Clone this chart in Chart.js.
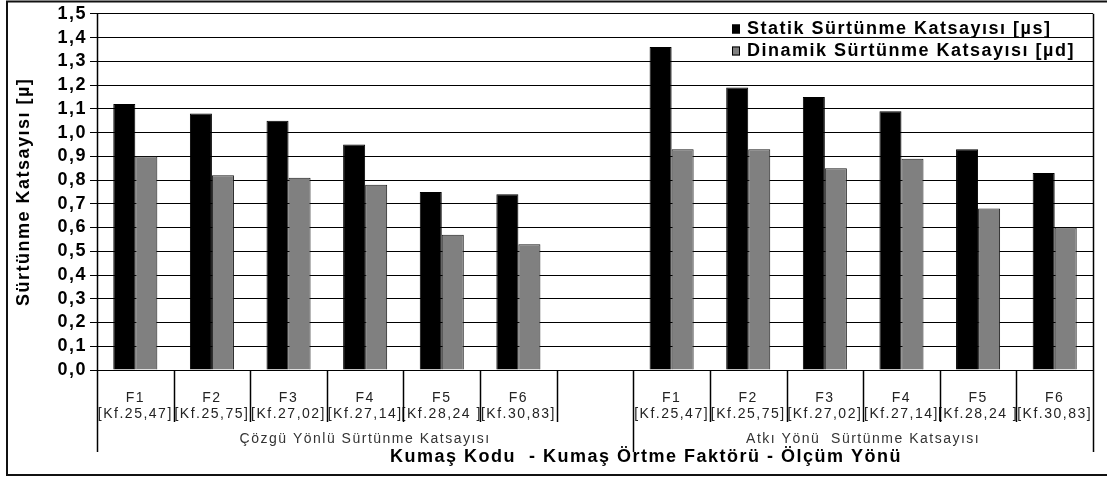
<!DOCTYPE html>
<html>
<head>
<meta charset="utf-8">
<script src="https://cdn.jsdelivr.net/npm/chart.js@4/dist/chart.umd.min.js"></script>
<style>
  html, body { margin: 0; padding: 0; background: #fff; overflow: hidden; }
  #box { width: 1107px; height: 479px; }
</style>
</head>
<body>
<div id="box"><canvas id="chart1"></canvas></div>
<script>
// Kumaş kodları ve örtme faktörleri
const codes = ['F1', 'F2', 'F3', 'F4', 'F5', 'F6']
const factors = ['[Kf.25,47]', '[Kf.25,75]', '[Kf.27,02]', '[Kf.27,14]', '[Kf.28,24 ]', '[Kf.30,83]']
const groups = ['Çözgü Yönlü Sürtünme Katsayısı', 'Atkı Yönü  Sürtünme Katsayısı']

// Çözgü yönü (soldaki grup)
const statikCozgu = [1.12, 1.08, 1.05, 0.95, 0.75, 0.74]
const dinamikCozgu = [0.90, 0.82, 0.81, 0.78, 0.57, 0.53]
// Atkı yönü (sağdaki grup)
const statikAtki = [1.36, 1.19, 1.15, 1.09, 0.93, 0.83]
const dinamikAtki = [0.93, 0.93, 0.85, 0.89, 0.68, 0.60]

const yTicks = ['0,0', '0,1', '0,2', '0,3', '0,4', '0,5', '0,6', '0,7', '0,8', '0,9', '1,0', '1,1', '1,2', '1,3', '1,4', '1,5']
const seriesNames = ['Statik Sürtünme Katsayısı [µs]', 'Dinamik Sürtünme Katsayısı [µd]']
const xTitle = 'Kumaş Kodu  - Kumaş Örtme Faktörü - Ölçüm Yönü'
const yTitle = 'Sürtünme Katsayısı [µ]'

// labels: 6 cozgu + 1 bos + 6 atki
const codeLabels = codes.map((c, i) => [c, factors[i]])
const labels = [...codeLabels, ['', ''], ...codeLabels]
const statik = [...statikCozgu, null, ...statikAtki]
const dinamik = [...dinamikCozgu, null, ...dinamikAtki]
const groupSize = [codes.length + 1, codes.length]

const FONT = "'Liberation Sans', Arial, sans-serif"
Chart.defaults.font.family = FONT
Chart.defaults.color = '#000'

// extra lines, group names, axis title and legend
const extras = {
    id: 'extras',
    beforeUpdate(chart) {
        chart.ctx.letterSpacing = '1.5px'
    },
    beforeDraw(chart) {
        const ctx = chart.ctx
        ctx.letterSpacing = '1.5px'
        ctx.save()
        ctx.fillStyle = '#fff'
        ctx.fillRect(0, 0, chart.width, chart.height)
        ctx.restore()
    },
    afterDraw(chart) {
        const ctx = chart.ctx
        const x = chart.scales.x
        const area = chart.chartArea
        const n = chart.data.labels.length
        const half = (x.getPixelForValue(1) - x.getPixelForValue(0)) / 2
        const edge = i => i < n ? x.getPixelForValue(i) - half : x.getPixelForValue(n - 1) + half
        const bounds = [0, groupSize[0], groupSize[0] + groupSize[1]]

        ctx.save()
        ctx.letterSpacing = '1.5px'
        ctx.strokeStyle = '#000'
        ctx.lineWidth = 1.5
        for (let i = 0; i <= n; i++) {
            const long = bounds.includes(i)
            const top = (i === 0 || i === n) ? area.top : area.bottom
            const bottom = area.bottom + (long ? 82 : 52)
            const px = Math.round(edge(i)) + 0.5
            ctx.beginPath()
            ctx.moveTo(px, top)
            ctx.lineTo(px, bottom)
            ctx.stroke()
        }

        // group names
        ctx.fillStyle = '#333'
        ctx.font = '14px ' + FONT
        ctx.textAlign = 'center'
        ctx.textBaseline = 'middle'
        for (let g = 0; g < groups.length; g++) {
            const cx = (edge(bounds[g]) + edge(bounds[g + 1])) / 2
            ctx.fillText(groups[g], cx, area.bottom + 69)
        }

        // x axis title
        ctx.fillStyle = '#000'
        ctx.font = 'bold 18px ' + FONT
        ctx.fillText(xTitle, (area.left + area.right) / 2 + 51, area.bottom + 87)

        // legend
        ctx.textAlign = 'left'
        const rows = [29, 51]
        chart.data.datasets.forEach((ds, i) => {
            ctx.fillStyle = ds.backgroundColor
            ctx.fillRect(area.right - 361, rows[i] - 4.5, 8, 9)
            ctx.strokeStyle = '#000'
            ctx.lineWidth = 1
            ctx.strokeRect(area.right - 360.5, rows[i] - 4, 7, 8)
            ctx.fillStyle = '#000'
            ctx.fillText(ds.label, area.right - 346, rows[i])
        })

        // outer frame
        ctx.lineWidth = 2
        ctx.strokeStyle = '#111'
        ctx.strokeRect(7, 1.5, 1110, 473.5)
        ctx.restore()
    }
}

const ctx = document.getElementById('chart1').getContext('2d')
const chart1 = new Chart(ctx, {
    type: 'bar',
    data: {
        labels: labels,
        datasets: [{
            label: seriesNames[0],
            data: statik,
            backgroundColor: '#000',
            borderColor: '#000',
            borderWidth: 1
        }, {
            label: seriesNames[1],
            data: dinamik,
            backgroundColor: '#808080',
            borderColor: '#1a1a1a',
            borderWidth: 1
        }]
    },
    options: {
        responsive: true,
        maintainAspectRatio: false,
        animation: false,
        devicePixelRatio: 1,
        datasets: {
            bar: { categoryPercentage: 0.575, barPercentage: 1 }
        },
        layout: { padding: { left: 7, right: 14, top: 11.5, bottom: 0 } },
        plugins: {
            legend: { display: false },
            tooltip: { enabled: false }
        },
        scales: {
            x: {
                grid: { display: false },
                border: { display: false },
                ticks: {
                    autoSkip: false,
                    maxRotation: 0,
                    padding: 12,
                    color: '#222',
                    font: { size: 14, lineHeight: 16 / 14 }
                },
                afterFit: s => { s.height = 109 }
            },
            y: {
                min: 0,
                max: 1.5,
                border: { display: false },
                grid: { color: '#000', lineWidth: 1, tickLength: 7, tickColor: '#000' },
                ticks: {
                    stepSize: 0.1,
                    autoSkip: false,
                    padding: 3,
                    color: '#000',
                    font: { size: 18, weight: 'bold' },
                    callback: (v, i) => yTicks[i]
                },
                title: {
                    display: true,
                    text: yTitle,
                    color: '#000',
                    font: { size: 18, weight: 'bold' },
                    padding: { top: 6, bottom: 0 }
                },
                afterFit: s => { s.width = 90 }
            }
        }
    },
    plugins: [extras]
})
</script>
</body>
</html>
